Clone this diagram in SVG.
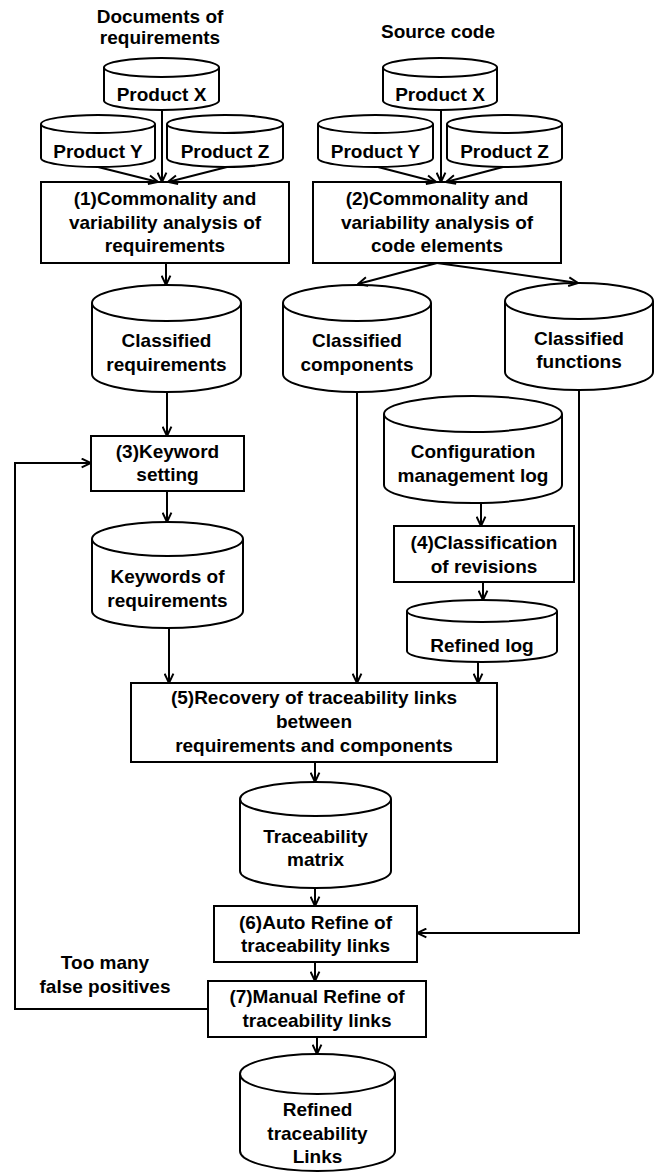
<svg xmlns="http://www.w3.org/2000/svg" width="660" height="1173" viewBox="0 0 660 1173">
<style>
.n{fill:#fff;stroke:#000;stroke-width:2}
.f{fill:none;stroke:#000;stroke-width:2}
.t{font-family:"Liberation Sans",Arial,sans-serif;font-weight:bold;font-size:19px;fill:#000;text-anchor:middle}
.c{fill:none;stroke:#000;stroke-width:2;marker-end:url(#ah)}
</style>
<defs>
<marker id="ah" viewBox="0 0 10 10" refX="9.5" refY="5" markerWidth="11" markerHeight="11" markerUnits="userSpaceOnUse" orient="auto">
<path d="M1,1 L9.5,5 L1,9" fill="none" stroke="#000" stroke-width="1.8"/>
</marker>
</defs>
<rect width="660" height="1173" fill="#fff"/>

<g id="title-docs"><text class="t" x="160" y="22.5">Documents of</text><text class="t" x="160" y="44">requirements</text></g>
<g id="title-src"><text class="t" x="438" y="38">Source code</text></g>

<g id="prodX-L"><path class="n" d="M104,67.5 A57.5,9.5 0 0 1 219,67.5 V100.5 A57.5,9.5 0 0 1 104,100.5 Z"/><path class="f" d="M104,67.5 A57.5,9.5 0 0 0 219,67.5"/><text class="t" x="161.5" y="101">Product X</text></g>
<g id="prodY-L"><path class="n" d="M41,124 A57,9 0 0 1 155,124 V158 A57,9 0 0 1 41,158 Z"/><path class="f" d="M41,124 A57,9 0 0 0 155,124"/><text class="t" x="98" y="158">Product Y</text></g>
<g id="prodZ-L"><path class="n" d="M167,124 A58,9 0 0 1 283,124 V158 A58,9 0 0 1 167,158 Z"/><path class="f" d="M167,124 A58,9 0 0 0 283,124"/><text class="t" x="225" y="158">Product Z</text></g>

<g id="prodX-R"><path class="n" d="M383,67.5 A57,9.5 0 0 1 497,67.5 V100.5 A57,9.5 0 0 1 383,100.5 Z"/><path class="f" d="M383,67.5 A57,9.5 0 0 0 497,67.5"/><text class="t" x="440" y="101">Product X</text></g>
<g id="prodY-R"><path class="n" d="M318,124 A57.5,9 0 0 1 433,124 V158 A57.5,9 0 0 1 318,158 Z"/><path class="f" d="M318,124 A57.5,9 0 0 0 433,124"/><text class="t" x="375.5" y="158">Product Y</text></g>
<g id="prodZ-R"><path class="n" d="M447,124 A57.5,9 0 0 1 562,124 V158 A57.5,9 0 0 1 447,158 Z"/><path class="f" d="M447,124 A57.5,9 0 0 0 562,124"/><text class="t" x="504.5" y="158">Product Z</text></g>

<g id="box1"><rect class="n" x="41" y="182" width="248" height="81"/><text class="t" x="165" y="205">(1)Commonality and</text><text class="t" x="165" y="228.5">variability analysis of</text><text class="t" x="165" y="252">requirements</text></g>
<g id="box2"><rect class="n" x="313" y="182" width="248" height="81"/><text class="t" x="437" y="205">(2)Commonality and</text><text class="t" x="437" y="228.5">variability analysis of</text><text class="t" x="437" y="252">code elements</text></g>

<g id="class-req"><path class="n" d="M92,303 A74.5,18 0 0 1 241,303 V374 A74.5,18 0 0 1 92,374 Z"/><path class="f" d="M92,303 A74.5,18 0 0 0 241,303"/><text class="t" x="166.5" y="347">Classified</text><text class="t" x="166.5" y="371">requirements</text></g>
<g id="class-comp"><path class="n" d="M283,303 A74,18 0 0 1 431,303 V374 A74,18 0 0 1 283,374 Z"/><path class="f" d="M283,303 A74,18 0 0 0 431,303"/><text class="t" x="357" y="347">Classified</text><text class="t" x="357" y="371">components</text></g>
<g id="class-func"><path class="n" d="M505,301 A74,18 0 0 1 653,301 V372 A74,18 0 0 1 505,372 Z"/><path class="f" d="M505,301 A74,18 0 0 0 653,301"/><text class="t" x="579" y="345">Classified</text><text class="t" x="579" y="368">functions</text></g>

<g id="box3"><rect class="n" x="91" y="436" width="153" height="55"/><text class="t" x="167.5" y="458">(3)Keyword</text><text class="t" x="167.5" y="481">setting</text></g>

<g id="config"><path class="n" d="M384,414 A89,18 0 0 1 562,414 V485 A89,18 0 0 1 384,485 Z"/><path class="f" d="M384,414 A89,18 0 0 0 562,414"/><text class="t" x="473" y="458">Configuration</text><text class="t" x="473" y="482">management log</text></g>

<g id="keywords"><path class="n" d="M92,539 A75.5,17 0 0 1 243,539 V611 A75.5,17 0 0 1 92,611 Z"/><path class="f" d="M92,539 A75.5,17 0 0 0 243,539"/><text class="t" x="167.5" y="583">Keywords of</text><text class="t" x="167.5" y="607">requirements</text></g>

<g id="box4"><rect class="n" x="394" y="526" width="180" height="56"/><text class="t" x="484" y="549">(4)Classification</text><text class="t" x="484" y="573">of revisions</text></g>

<g id="refined-log"><path class="n" d="M407,611 A75,11 0 0 1 557,611 V651 A75,11 0 0 1 407,651 Z"/><path class="f" d="M407,611 A75,11 0 0 0 557,611"/><text class="t" x="482" y="652">Refined log</text></g>

<g id="box5"><rect class="n" x="131" y="683" width="366" height="79"/><text class="t" x="314" y="704">(5)Recovery of traceability links</text><text class="t" x="314" y="728">between</text><text class="t" x="314" y="752">requirements and components</text></g>

<g id="matrix"><path class="n" d="M240,799 A75.5,17 0 0 1 391,799 V871 A75.5,17 0 0 1 240,871 Z"/><path class="f" d="M240,799 A75.5,17 0 0 0 391,799"/><text class="t" x="315.5" y="843">Traceability</text><text class="t" x="315.5" y="866">matrix</text></g>

<g id="box6"><rect class="n" x="214" y="906" width="203" height="56"/><text class="t" x="315.5" y="929">(6)Auto Refine of</text><text class="t" x="315.5" y="952">traceability links</text></g>

<g id="note"><text class="t" x="105" y="969">Too many</text><text class="t" x="105" y="993">false positives</text></g>

<g id="box7"><rect class="n" x="208" y="981" width="218" height="56"/><text class="t" x="317" y="1003">(7)Manual Refine of</text><text class="t" x="317" y="1027">traceability links</text></g>

<g id="refined-links"><path class="n" d="M240,1074 A77.5,20 0 0 1 395,1074 V1151 A77.5,20 0 0 1 240,1151 Z"/><path class="f" d="M240,1074 A77.5,20 0 0 0 395,1074"/><text class="t" x="317.5" y="1116">Refined</text><text class="t" x="317.5" y="1140">traceability</text><text class="t" x="317.5" y="1163">Links</text></g>

<g id="connectors">
<path class="c" d="M162,110 V182"/>
<path class="c" d="M98,167 L158,182"/>
<path class="c" d="M227,167 L168,182"/>
<path class="c" d="M441,110 V182"/>
<path class="c" d="M378,167 L436,182"/>
<path class="c" d="M503,167 L446,182"/>
<path class="c" d="M166,263 V285"/>
<path class="c" d="M437,263 L358,284"/>
<path class="c" d="M437,263 L578,283"/>
<path class="c" d="M167,392 V436"/>
<path class="c" d="M167,491 V522"/>
<path class="c" d="M357,392 V683"/>
<path class="c" d="M169,628 V683"/>
<path class="c" d="M481,503 V526"/>
<path class="c" d="M483,582 V600"/>
<path class="c" d="M478,662 V683"/>
<path class="c" d="M315,762 V782"/>
<path class="c" d="M315,888 V906"/>
<path class="c" d="M579,390 V933 H417"/>
<path class="c" d="M315,962 V981"/>
<path class="c" d="M208,1009 H15 V463 H91"/>
<path class="c" d="M317,1037 V1054"/>
</g>
</svg>
